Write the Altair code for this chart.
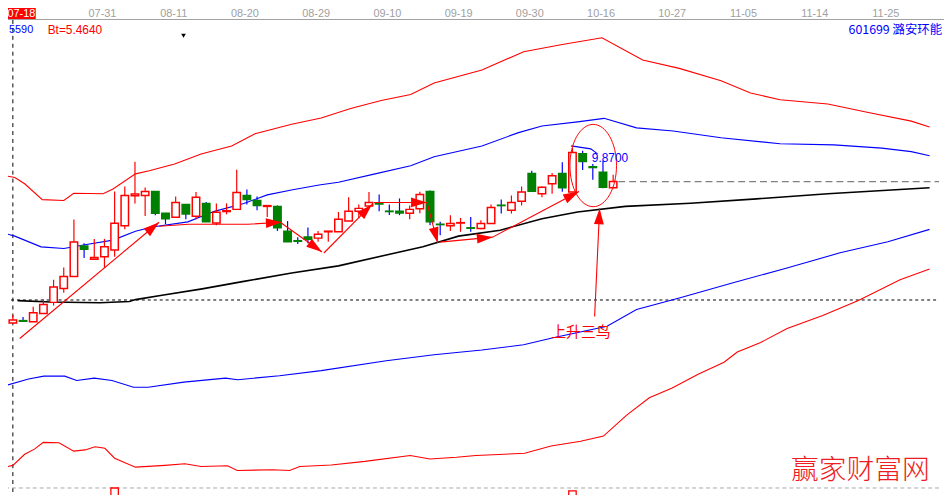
import altair as alt
import pandas as pd
import numpy as np

# ---------------- data ----------------
# candles: trading-day index (0 = 2014-07-18)
cdl_day = list(range(-1, 60))
cdl_open = [5.57, 5.46, 5.52, 5.49, 5.70, 5.98, 6.33, 6.63, 7.40, 7.07, 7.13, 7.30, 7.91, 8.67, 8.675,
            8.775, 8.23, 8.125, 8.45, 8.15, 8.475, 7.98, 8.27, 8.325, 8.675, 8.55, 8.40, 8.40, 7.775,
            7.535, 7.63, 7.60, 7.76, 7.76, 8.03, 8.275, 8.41, 8.47, 8.28, 8.275, 8.23, 8.34, 8.775,
            7.95, 7.91, 7.98, 7.86, 7.84, 7.97, 8.43, 8.30, 8.53, 9.23, 8.72, 8.97, 9.23, 8.76, 9.73,
            9.40, 9.26, 8.87]
cdl_close = [5.48, 5.535, 5.505, 5.717, 5.925, 6.37, 6.63, 7.50, 7.32, 7.11, 7.38, 7.975, 8.675, 8.71,
             8.775, 8.23, 8.09, 8.50, 8.21, 8.63, 8.01, 8.25, 8.29, 8.75, 8.575, 8.425, 8.42, 7.86,
             7.51, 7.52, 7.57, 7.70, 7.775, 8.075, 8.275, 8.35, 8.50, 8.46, 8.27, 8.235, 8.325, 8.70,
             8.01, 7.94, 7.97, 7.99, 7.85, 7.97, 8.375, 8.42, 8.50, 8.76, 8.78, 8.88, 9.175, 8.87,
             9.76, 9.53, 9.38, 8.88, 9.025]
cdl_high = [5.57, 5.66, 5.61, 5.87, 6.05, 6.55, 6.86, 8.07, 7.47, 7.58, 7.58, 8.775, 8.90, 9.525, 8.875,
            8.775, 8.23, 8.65, 8.45, 8.76, 8.51, 8.475, 8.475, 9.325, 8.825, 8.65, 8.42, 8.425, 8.03,
            7.62, 7.87, 7.78, 7.775, 8.26, 8.63, 8.45, 8.76, 8.70, 8.45, 8.60, 8.425, 8.77, 8.80,
            8.01, 8.175, 8.11, 8.13, 8.05, 8.45, 8.575, 8.675, 8.90, 9.30, 8.90, 9.24, 9.51, 9.87,
            9.80, 9.47, 9.55, 9.20]
cdl_low = [5.48, 5.46, 5.49, 5.49, 5.70, 5.90, 6.22, 6.63, 7.10, 7.07, 6.85, 7.13, 7.825, 8.475, 8.16,
           8.175, 7.95, 8.125, 8.075, 8.075, 8.01, 7.925, 8.20, 8.325, 8.45, 8.30, 8.13, 7.78, 7.51,
           7.45, 7.47, 7.51, 7.51, 7.76, 8.03, 8.10, 8.41, 8.275, 8.18, 8.18, 8.075, 8.225, 7.925,
           7.675, 7.78, 7.76, 7.76, 7.825, 7.97, 8.22, 8.22, 8.425, 8.78, 8.63, 8.72, 8.77, 8.76,
           9.32, 9.07, 8.86, 8.85]

# band lines (day index, price)
up_red_day = [-0.77, 0.19, 1.16, 2.89, 5.01, 5.98, 8.87, 9.84, 12.05, 13.4, 15.9, 18.5, 21.5, 23.8, 27.4,
              30.3, 33.2, 36.2, 39.1, 41.4, 46.1, 50.2, 54.0, 57.9, 61.9, 65.5, 69.6, 72.5, 75.4, 80.1,
              84.2, 88.3, 90.1]
up_red_val = [9.175, 9.13, 8.97, 8.57, 8.55, 8.73, 8.72, 8.84, 9.22, 9.30, 9.47, 9.72, 9.925, 10.23, 10.47,
              10.63, 10.87, 11.07, 11.22, 11.51, 11.84, 12.30, 12.48, 12.65, 12.09, 11.88, 11.57, 11.26,
              11.09, 10.98, 10.76, 10.55, 10.40]
up_blue_day = [-0.77, 0.19, 2.77, 5.01, 7.23, 9.84, 12.05, 13.7, 17.2, 19.8, 22.7, 25.0, 27.5, 30.1, 32.0,
               35.6, 39.1, 41.4, 46.1, 49.7, 52.0, 55.5, 58.1, 61.3, 64.9, 69.6, 75.4, 80.7, 85.4, 88.3,
               90.1]
up_blue_val = [7.72, 7.65, 7.38, 7.34, 7.44, 7.55, 7.775, 7.88, 8.01, 8.275, 8.475, 8.69, 8.82, 8.94, 9.01,
               9.22, 9.425, 9.65, 9.925, 10.26, 10.425, 10.53, 10.62, 10.38, 10.30, 10.13, 9.98, 9.95,
               9.87, 9.78, 9.675]
mid_day = [0.48, 3.73, 8.55, 11.45, 12.05, 14.66, 18.6, 22.7, 27.4, 32.0, 36.7, 40.3, 43.8, 47.9, 52.0,
           55.5, 60.2, 66.6, 73.1, 80.1, 90.1]
mid_val = [6.025, 5.99, 5.97, 6.0, 6.05, 6.16, 6.32, 6.51, 6.72, 6.90, 7.175, 7.38, 7.65, 7.80, 8.09,
           8.26, 8.40, 8.48, 8.59, 8.72, 8.87]
lo_blue_day = [-0.77, 1.54, 3.04, 5.1, 6.27, 8.0, 9.74, 11.86, 13.3, 16.8, 20.9, 22.1, 26.2, 30.3, 36.7,
               41.4, 46.1, 50.2, 53.1, 58.4, 61.3, 65.5, 70.7, 76.0, 81.3, 86.0, 90.1]
lo_blue_val = [3.88, 4.05, 4.12, 4.12, 4.01, 4.07, 4.01, 3.84, 3.84, 3.97, 4.07, 4.03, 4.13, 4.26, 4.51,
               4.66, 4.78, 4.91, 5.09, 5.38, 5.80, 6.09, 6.47, 6.84, 7.23, 7.51, 7.82]
lo_red_day = [-0.77, 0.0, 1.16, 2.12, 2.99, 4.53, 5.98, 7.1, 8.07, 9.04, 10.0, 12.05, 14.95, 16.9, 18.5,
              21.1, 22.05, 25.55, 27.2, 28.2, 31.3, 34.6, 39.05, 41.0, 43.6, 45.5, 50.3, 52.9, 55.8,
              58.05, 60.3, 62.55, 64.8, 67.4, 69.9, 71.2, 73.5, 76.1, 79.6, 83.1, 87.2, 90.1]
lo_red_val = [1.825, 1.87, 2.15, 2.28, 2.45, 2.44, 2.23, 2.26, 2.34, 2.30, 2.05, 1.825, 1.87, 1.91, 1.84,
              1.86, 1.74, 1.76, 1.74, 1.84, 1.88, 1.97, 2.12, 2.03, 2.075, 2.12, 2.175, 2.36, 2.48,
              2.61, 3.13, 3.575, 3.82, 4.175, 4.47, 4.73, 4.97, 5.32, 5.65, 6.03, 6.55, 6.82]
peak_mark_day = [54.87, 56.8, 57.47]
peak_mark_val = [9.925, 9.85, 9.725]

# hand-drawn arrows: list of (day, price) paths, last point = arrow tip
arrows = [
    [(0.675, 5.07), (14.37, 8.0)],
    [(14.37, 7.9), (17.26, 7.95), (23.14, 7.95), (26.42, 8.0)],
    [(26.42, 7.975), (30.38, 7.25)],
    [(30.57, 7.225), (35.29, 8.45)],
    [(35.49, 8.5), (40.69, 8.5)],
    [(40.69, 8.5), (41.76, 7.475)],
    [(41.95, 7.5), (47.16, 7.625)],
    [(47.16, 7.625), (55.64, 8.775)],
    [(57.18, 5.625), (57.67, 8.35)],
]
circle_day, circle_val = 57.04, 9.43

# levels
last_price = 9.025
ref_level = 6.04
vol_day = [10, 55]
vol_top = [1.30, 1.225]

# top axis
date_labels = ["07-31", "08-11", "08-20", "08-29", "09-10", "09-19", "09-30", "10-16", "10-27", "11-05", "11-14", "11-25"]
date_days = [9, 16, 23, 30, 37, 44, 51, 58, 65, 72, 79, 86]

# ---------------- scales ----------------
W, H = 952, 497
X_DOM = [-0.7715, 91.03]
Y_DOM = [1.125, 13.55]
xs = alt.Scale(domain=X_DOM, nice=False, zero=False)
ys = alt.Scale(domain=Y_DOM, nice=False, zero=False)
PXD = W / (X_DOM[1] - X_DOM[0])
PXP = H / (Y_DOM[1] - Y_DOM[0])


def X(f="day"):
    return alt.X(f"{f}:Q", scale=xs, axis=None)


def Y(f="price"):
    return alt.Y(f"{f}:Q", scale=ys, axis=None)


RED, GREEN, BLUE = "#ff0000", "#008000", "#0000ff"
CJK = "Noto Sans CJK SC"
HEAD_PATH = "M 0 -1 L 0.62 1 L -0.62 1 Z"
HEAD_HALF = 8  # px from centre to tip for size 256

# ---------------- frames ----------------
cdl = pd.DataFrame({"day": cdl_day, "open": cdl_open, "close": cdl_close,
                    "high": cdl_high, "low": cdl_low})
cdl["kind"] = np.where(cdl["close"] >= cdl["open"], "up", "down")

bands = []
for name, d, v in [("up_red", up_red_day, up_red_val), ("up_blue", up_blue_day, up_blue_val),
                   ("lo_blue", lo_blue_day, lo_blue_val), ("lo_red", lo_red_day, lo_red_val),
                   ("peak", peak_mark_day, peak_mark_val)]:
    bands.append(pd.DataFrame({"band": name, "day": d, "price": v, "ord": range(len(d))}))
bands = pd.concat(bands)
mid = pd.DataFrame({"day": mid_day, "price": mid_val, "ord": range(len(mid_day))})

arr_rows, head_rows = [], []
for k, path in enumerate(arrows):
    for j, (d, p) in enumerate(path):
        arr_rows.append({"arrow": k, "ord": j, "day": d, "price": p})
    (d0, p0), (d1, p1) = path[-2], path[-1]
    di, dp = d1 - d0, p1 - p0
    ln = np.hypot(di * PXD, dp * PXP)
    ang = float(np.degrees(np.arctan2(di * PXD, dp * PXP))) % 360
    head_rows.append({"day": d1 - HEAD_HALF * di / ln, "price": p1 - HEAD_HALF * dp / ln, "angle": ang})
arr = pd.DataFrame(arr_rows)
heads = pd.DataFrame(head_rows)

one = pd.DataFrame({"a": [0]})

# ---------------- layers ----------------
top_strip = alt.Chart(one).mark_rect(color="#ece9d8").encode(
    x=alt.value(0), x2=alt.value(W), y=alt.value(0), y2=alt.value(4.5))
top_strip_line = alt.Chart(one).mark_rule(color="#aca899", strokeWidth=1).encode(
    x=alt.value(0), x2=alt.value(W), y=alt.value(4.5))
axis_line = alt.Chart(one).mark_rule(color="#a0a0a0", strokeWidth=1).encode(
    x=alt.value(0), x2=alt.value(W), y=alt.value(17.5))
date_box = alt.Chart(one).mark_rect(color=RED).encode(
    x=alt.value(0), x2=alt.value(36), y=alt.value(5), y2=alt.value(17))
date_box_txt = alt.Chart(one).mark_text(text="07-18", color="white", align="right",
                                        baseline="middle", fontSize=11, font="Liberation Sans").encode(
    x=alt.value(35.5), y=alt.value(11.5))
dates = alt.Chart(pd.DataFrame({"day": date_days, "label": date_labels})).mark_text(
    color="#a0a0a0", fontSize=11, font="Liberation Sans", baseline="middle", dx=-2).encode(
    x=X(), y=alt.value(12), text="label:N")

hdr_5590 = alt.Chart(one).mark_text(text="5590", color=BLUE, align="left", baseline="middle",
                                    fontSize=11, font="Liberation Sans").encode(x=alt.value(9), y=alt.value(28))
hdr_bt = alt.Chart(one).mark_text(text="Bt=5.4640", color=RED, align="left", baseline="middle",
                                  fontSize=12, font="Liberation Sans").encode(x=alt.value(48), y=alt.value(28))
hdr_tri = alt.Chart(one).mark_point(shape="triangle-down", filled=True, color="black", size=22, opacity=1).encode(
    x=alt.value(185), y=alt.value(34))
hdr_name = alt.Chart(one).mark_text(text="601699 潞安环能", color=BLUE, align="right", baseline="middle",
                                    fontSize=12.5, font=CJK).encode(x=alt.value(950), y=alt.value(28))

ref_line = alt.Chart(pd.DataFrame({"d0": [X_DOM[0]], "d1": [X_DOM[1]], "price": [ref_level]})).mark_rule(
    color="black", strokeDash=[3, 3], strokeWidth=1).encode(x=X("d0"), x2="d1:Q", y=Y())
vline = alt.Chart(pd.DataFrame({"day": [0], "p0": [13.1], "p1": [Y_DOM[0]]})).mark_rule(
    color="black", strokeDash=[4, 4], strokeWidth=1).encode(x=X(), y=Y("p0"), y2="p1:Q")
bottom_line = alt.Chart(pd.DataFrame({"d0": [X_DOM[0]], "d1": [X_DOM[1]], "price": [1.30]})).mark_rule(
    color="#a8a8a8", strokeDash=[4, 3], strokeWidth=1).encode(x=X("d0"), x2="d1:Q", y=Y())
price_line = alt.Chart(pd.DataFrame({"d0": [59.5], "d1": [X_DOM[1]], "price": [last_price]})).mark_rule(
    color="#808080", strokeDash=[7, 4], strokeWidth=1.2).encode(x=X("d0"), x2="d1:Q", y=Y())

band_lines = alt.Chart(bands).mark_line(strokeWidth=1.1).encode(
    x=X(), y=Y(), detail="band:N", order="ord:Q",
    color=alt.Color("band:N", legend=None,
                    scale=alt.Scale(domain=["up_red", "up_blue", "lo_blue", "lo_red", "peak"],
                                    range=[RED, BLUE, BLUE, RED, BLUE])))
mid_line = alt.Chart(mid).mark_line(color="black", strokeWidth=1.6).encode(x=X(), y=Y(), order="ord:Q")

kind_scale = alt.Scale(domain=["up", "down"], range=[RED, GREEN])
wicks = alt.Chart(cdl).mark_rule(strokeWidth=1.2).encode(
    x=X(), y=Y("low"), y2="high:Q", color=alt.Color("kind:N", scale=kind_scale, legend=None))
bodies = alt.Chart(cdl).mark_bar(size=7.5, strokeWidth=1.5).encode(
    x=X(), y=Y("open"), y2="close:Q",
    stroke=alt.Stroke("kind:N", scale=kind_scale, legend=None),
    fill=alt.Fill("kind:N", scale=alt.Scale(domain=["up", "down"], range=["white", GREEN]), legend=None))

vols = alt.Chart(pd.DataFrame({"day": vol_day, "price": vol_top, "base": [Y_DOM[0] - 0.1] * 2})).mark_bar(
    size=7.5, fill="white", stroke=RED, strokeWidth=1.3, clip=True).encode(x=X(), y=Y(), y2="base:Q")

arrow_lines = alt.Chart(arr).mark_line(color=RED, strokeWidth=1.1).encode(
    x=X(), y=Y(), detail="arrow:N", order="ord:Q")
arrow_heads = alt.Chart(heads).mark_point(shape=HEAD_PATH, filled=True, color=RED, size=256,
                                          opacity=1, strokeWidth=0).encode(
    x=X(), y=Y(), angle=alt.Angle("angle:Q", scale=None))

ellipse = alt.Chart(pd.DataFrame({"day": [circle_day], "price": [circle_val]})).mark_point(
    shape="M -0.566 0 A 0.566 1 0 1 0 0.566 0 A 0.566 1 0 1 0 -0.566 0 Z",
    size=6889, filled=False, stroke=RED, strokeWidth=1, opacity=1).encode(x=X(), y=Y())

hi_label = alt.Chart(pd.DataFrame({"day": [56.9], "price": [9.625], "t": ["9.8700"]})).mark_text(
    color=BLUE, align="left", baseline="middle", fontSize=12, font="Liberation Sans").encode(
    x=X(), y=Y(), text="t:N")
pattern_label = alt.Chart(pd.DataFrame({"day": [55.83], "price": [5.225], "t": ["上升三鸟"]})).mark_text(
    color=RED, align="center", baseline="middle", fontSize=15, font=CJK).encode(x=X(), y=Y(), text="t:N")
watermark = alt.Chart(pd.DataFrame({"day": [83.3], "price": [1.73], "t": ["赢家财富网"]})).mark_text(
    color="#ee1c24", align="center", baseline="middle", fontSize=28, font=CJK, fontWeight=300).encode(
    x=X(), y=Y(), text="t:N")

chart = alt.layer(
    ref_line, vline, bottom_line, price_line,
    band_lines, mid_line,
    wicks, bodies, vols,
    arrow_lines, arrow_heads, ellipse,
    hi_label, pattern_label, watermark,
    top_strip, top_strip_line, axis_line, dates, date_box, date_box_txt,
    hdr_5590, hdr_bt, hdr_tri, hdr_name,
).properties(
    width=W, height=H,
    padding={"left": -8, "top": -8, "right": 0, "bottom": 0},
    autosize=alt.AutoSizeParams(type="none"),
    background="white",
).configure_view(stroke=None)

chart.save("out.html", embed_options={"renderer": "svg", "actions": False})
